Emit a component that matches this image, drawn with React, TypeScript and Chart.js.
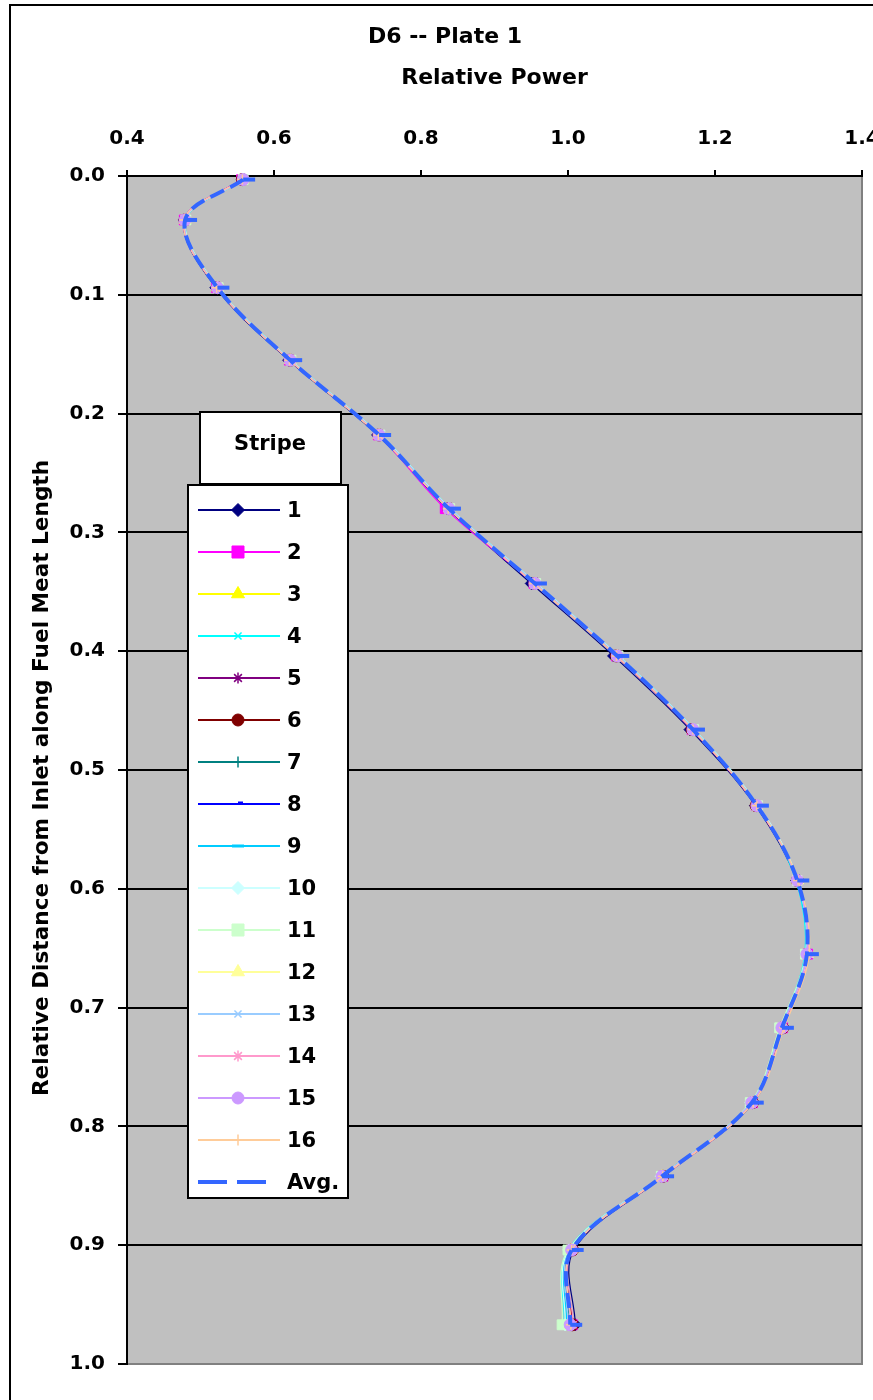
import React, { useEffect, useRef } from 'react';
import { Chart, registerables } from 'chart.js';
import { drawPoint } from 'chart.js/helpers';

Chart.register(...registerables);

// ---------------- DATA ----------------
const CHART_TITLE = 'D6 -- Plate 1';
const X_TITLE = 'Relative Power';
const Y_TITLE = 'Relative Distance from Inlet along Fuel Meat Length';
const LEGEND_TITLE = 'Stripe';

const DISTANCE = [0.003, 0.037, 0.094, 0.155, 0.218, 0.280, 0.343, 0.404, 0.466, 0.530, 0.593, 0.655, 0.717, 0.780, 0.842, 0.904, 0.967];

const STRIPE_1 = [0.557, 0.478, 0.521, 0.620, 0.741, 0.836, 0.950, 1.062, 1.166, 1.255, 1.311, 1.326, 1.292, 1.252, 1.130, 1.008, 1.010];
const STRIPE_2 = [0.556, 0.478, 0.522, 0.621, 0.742, 0.833, 0.954, 1.066, 1.169, 1.257, 1.312, 1.326, 1.292, 1.251, 1.129, 1.004, 1.006];
const STRIPE_3 = [0.558, 0.479, 0.523, 0.622, 0.743, 0.838, 0.955, 1.067, 1.170, 1.257, 1.312, 1.325, 1.291, 1.250, 1.128, 1.004, 1.004];
const STRIPE_4 = [0.559, 0.480, 0.524, 0.623, 0.745, 0.840, 0.957, 1.069, 1.172, 1.258, 1.310, 1.322, 1.289, 1.249, 1.127, 1.000, 0.995];
const STRIPE_5 = [0.558, 0.479, 0.523, 0.622, 0.743, 0.838, 0.955, 1.067, 1.170, 1.257, 1.313, 1.326, 1.291, 1.250, 1.128, 1.005, 1.004];
const STRIPE_6 = [0.557, 0.479, 0.523, 0.622, 0.743, 0.838, 0.955, 1.066, 1.169, 1.256, 1.312, 1.325, 1.292, 1.251, 1.129, 1.006, 1.006];
const STRIPE_7 = [0.558, 0.480, 0.523, 0.622, 0.744, 0.839, 0.956, 1.068, 1.171, 1.258, 1.312, 1.325, 1.290, 1.249, 1.127, 1.004, 1.002];
const STRIPE_8 = [0.558, 0.479, 0.523, 0.622, 0.743, 0.838, 0.955, 1.067, 1.170, 1.257, 1.312, 1.325, 1.291, 1.250, 1.128, 1.005, 1.003];
const STRIPE_9 = [0.559, 0.480, 0.524, 0.623, 0.744, 0.839, 0.956, 1.068, 1.171, 1.258, 1.311, 1.323, 1.290, 1.249, 1.127, 1.002, 0.998];
const STRIPE_10 = [0.559, 0.480, 0.524, 0.623, 0.745, 0.840, 0.957, 1.069, 1.172, 1.259, 1.313, 1.324, 1.290, 1.249, 1.127, 1.001, 0.996];
const STRIPE_11 = [0.558, 0.480, 0.524, 0.623, 0.744, 0.839, 0.956, 1.068, 1.171, 1.258, 1.312, 1.323, 1.288, 1.248, 1.127, 1.000, 0.992];
const STRIPE_12 = [0.558, 0.479, 0.523, 0.622, 0.743, 0.838, 0.955, 1.067, 1.170, 1.257, 1.313, 1.326, 1.291, 1.250, 1.128, 1.005, 1.003];
const STRIPE_13 = [0.558, 0.479, 0.523, 0.622, 0.744, 0.839, 0.956, 1.068, 1.171, 1.258, 1.312, 1.324, 1.290, 1.249, 1.127, 1.003, 1.000];
const STRIPE_14 = [0.557, 0.478, 0.522, 0.621, 0.742, 0.837, 0.954, 1.066, 1.169, 1.256, 1.312, 1.327, 1.293, 1.252, 1.130, 1.006, 1.007];
const STRIPE_15 = [0.558, 0.479, 0.523, 0.622, 0.743, 0.838, 0.955, 1.067, 1.170, 1.257, 1.312, 1.325, 1.291, 1.250, 1.128, 1.005, 1.003];
const STRIPE_16 = [0.557, 0.478, 0.522, 0.621, 0.742, 0.837, 0.954, 1.066, 1.170, 1.257, 1.313, 1.328, 1.294, 1.252, 1.129, 1.005, 1.004];
const AVG = [0.558, 0.479, 0.523, 0.622, 0.743, 0.838, 0.955, 1.067, 1.170, 1.257, 1.312, 1.325, 1.291, 1.250, 1.128, 1.005, 1.003];

const STRIPES = [
  STRIPE_1, STRIPE_2, STRIPE_3, STRIPE_4, STRIPE_5, STRIPE_6, STRIPE_7, STRIPE_8,
  STRIPE_9, STRIPE_10, STRIPE_11, STRIPE_12, STRIPE_13, STRIPE_14, STRIPE_15, STRIPE_16,
];
const STRIPE_LABELS = ['1', '2', '3', '4', '5', '6', '7', '8', '9', '10', '11', '12', '13', '14', '15', '16'];
const AVG_LABEL = 'Avg.';

const X_MIN = 0.4;
const X_MAX = 1.4;
const X_STEP = 0.2;
const Y_MIN = 0.0;
const Y_MAX = 1.0;
const Y_STEP = 0.1;

// ---------------- STYLES ----------------
const STRIPE_COLORS = [
  '#000080', '#FF00FF', '#FFFF00', '#00FFFF', '#800080', '#800000', '#008080', '#0000FF',
  '#00CCFF', '#CCFFFF', '#CCFFCC', '#FFFF99', '#99CCFF', '#FF99CC', '#CC99FF', '#FFCC99',
];
const STRIPE_MARKERS = [
  'rectRot', 'rect', 'triangle', 'crossRot', 'star', 'circle', 'cross', 'dash',
  'line', 'rectRot', 'rect', 'triangle', 'crossRot', 'star', 'circle', 'cross',
];
const MARKER_RADIUS: Record<string, number> = {
  rectRot: 6, rect: 7, triangle: 6.5, crossRot: 4.5, star: 5, circle: 6, cross: 5, dash: 4, line: 5,
};
const LEGEND_RADIUS: Record<string, number> = {
  rectRot: 6.5, rect: 8.5, triangle: 7.5, crossRot: 5, star: 5.5, circle: 6, cross: 5.5, dash: 5, line: 6,
};
const MARKER_WIDTH: Record<string, number> = {
  rectRot: 1, rect: 1, triangle: 1, crossRot: 1.5, star: 1.5, circle: 1, cross: 1.5, dash: 3, line: 3,
};
const AVG_COLOR = '#3366FF';
const FONT = "'DejaVu Sans', Verdana, sans-serif";
const PLOT_BG = '#C0C0C0';

const framePlugin = {
  id: 'excelFrame',
  beforeDraw(chart: any) {
    const { ctx, chartArea: a } = chart;
    ctx.save();
    ctx.fillStyle = '#FFFFFF';
    ctx.fillRect(0, 0, chart.width, chart.height);
    ctx.fillStyle = PLOT_BG;
    ctx.fillRect(a.left, a.top, a.right - a.left, a.bottom - a.top);
    ctx.strokeStyle = '#808080';
    ctx.lineWidth = 2;
    ctx.beginPath();
    ctx.moveTo(a.right, a.top);
    ctx.lineTo(a.right, a.bottom + 1);
    ctx.stroke();
    ctx.restore();
  },
  afterDraw(chart: any) {
    const { ctx } = chart;
    ctx.save();
    // Chart title
    ctx.fillStyle = '#000';
    ctx.font = `bold 22px ${FONT}`;
    ctx.textAlign = 'center';
    ctx.textBaseline = 'alphabetic';
    ctx.fillText(CHART_TITLE, 445, 43);

    // Y axis title (rotated)
    ctx.save();
    ctx.translate(42, 778);
    ctx.rotate(-Math.PI / 2);
    ctx.font = `bold 21.6px ${FONT}`;
    ctx.textAlign = 'center';
    ctx.textBaseline = 'middle';
    ctx.fillText(Y_TITLE, 0, 0);
    ctx.restore();

    // Outer frame (left and top edges visible)
    ctx.strokeStyle = '#000';
    ctx.lineWidth = 2;
    ctx.beginPath();
    ctx.moveTo(10, chart.height + 5);
    ctx.lineTo(10, 5);
    ctx.lineTo(chart.width + 5, 5);
    ctx.stroke();

    // Legend title box
    ctx.fillStyle = '#FFFFFF';
    ctx.fillRect(200, 412, 141, 72);
    ctx.lineWidth = 2;
    ctx.strokeRect(200, 412, 141, 72);
    ctx.fillStyle = '#000';
    ctx.font = `bold 21px ${FONT}`;
    ctx.textAlign = 'center';
    ctx.textBaseline = 'alphabetic';
    ctx.fillText(LEGEND_TITLE, 270, 450);

    // Legend box
    ctx.fillStyle = '#FFFFFF';
    ctx.fillRect(188, 485, 160, 713);
    ctx.strokeRect(188, 485, 160, 713);

    const datasets = chart.data.datasets;
    const rowStart = 510;
    const rowStep = 42;
    datasets.forEach((ds: any, row: number) => {
      const y = rowStart + row * rowStep;
      const isAvg = ds.label === AVG_LABEL;
      ctx.save();
      ctx.strokeStyle = ds.borderColor;
      ctx.fillStyle = ds.pointBackgroundColor;
      ctx.lineWidth = isAvg ? 4 : 2;
      if (isAvg) ctx.setLineDash([29, 10]);
      ctx.beginPath();
      ctx.moveTo(198, y);
      ctx.lineTo(isAvg ? 272 : 280, y);
      ctx.stroke();
      ctx.setLineDash([]);
      const style = ds.pointStyle;
      const r = isAvg ? 12 : LEGEND_RADIUS[style];
      ctx.strokeStyle = ds.pointBorderColor;
      ctx.lineWidth = ds.pointBorderWidth;
      drawPoint(ctx, { pointStyle: style, rotation: 0, radius: r, borderWidth: ds.pointBorderWidth }, 238, style === 'dash' && !isAvg ? y - 1 : y);
      ctx.restore();
      ctx.fillStyle = '#000';
      ctx.font = `bold 21px ${FONT}`;
      ctx.textAlign = 'left';
      ctx.textBaseline = 'alphabetic';
      ctx.fillText(ds.label, 287, y + 7);
    });
    ctx.restore();
  },
};

export default function App() {
  const canvasRef = useRef<HTMLCanvasElement | null>(null);

  useEffect(() => {
    if (!canvasRef.current) return;

    const stripeSets = STRIPES.map((vals, i) => {
      const style = STRIPE_MARKERS[i];
      return {
        label: STRIPE_LABELS[i],
        data: DISTANCE.map((d, k) => ({ x: vals[k], y: d })),
        borderColor: STRIPE_COLORS[i],
        backgroundColor: STRIPE_COLORS[i],
        borderWidth: 1.2,
        pointStyle: style,
        pointRadius: MARKER_RADIUS[style],
        pointBackgroundColor: STRIPE_COLORS[i],
        pointBorderColor: STRIPE_COLORS[i],
        pointBorderWidth: MARKER_WIDTH[style],
        tension: 0.35,
        fill: false,
        clip: false,
        order: 16 - i,
      };
    });

    const avgSet = {
      label: AVG_LABEL,
      data: DISTANCE.map((d, k) => ({ x: AVG[k], y: d })),
      borderColor: AVG_COLOR,
      backgroundColor: AVG_COLOR,
      borderWidth: 4,
      borderDash: [15, 7],
      pointStyle: 'dash',
      pointRadius: 12,
      pointBackgroundColor: AVG_COLOR,
      pointBorderColor: AVG_COLOR,
      pointBorderWidth: 4,
      tension: 0.35,
      fill: false,
      clip: false,
      order: 0,
    };

    const tickFont = { family: FONT, size: 20, weight: 'bold' as const };

    const chart = new Chart(canvasRef.current, {
      type: 'line',
      data: { datasets: [...stripeSets, avgSet] as any },
      options: {
        animation: false,
        responsive: false,
        devicePixelRatio: 1,
        events: [],
        layout: { autoPadding: false, padding: { left: 0, top: 0, right: 11, bottom: 36 } },
        plugins: {
          legend: { display: false },
          title: { display: false },
          tooltip: { enabled: false },
        },
        scales: {
          x: {
            type: 'linear',
            position: 'top',
            min: X_MIN,
            max: X_MAX,
            afterFit(scale: any) {
              scale.height = 176;
              scale.paddingLeft = 0;
              scale.paddingRight = 0;
            },
            ticks: {
              stepSize: X_STEP,
              color: '#000',
              font: tickFont,
              padding: 19,
              maxRotation: 0,
              autoSkip: false,
              callback: (v: any) => Number(v).toFixed(1),
            },
            grid: {
              drawOnChartArea: false,
              drawTicks: true,
              tickLength: 6,
              color: '#000',
              lineWidth: 2,
            },
            border: { display: true, color: '#000', width: 2 },
            title: {
              display: true,
              text: X_TITLE,
              color: '#000',
              font: { family: FONT, size: 22, weight: 'bold' },
              padding: { top: 65, bottom: 0 },
            },
          },
          y: {
            type: 'linear',
            reverse: true,
            min: Y_MIN,
            max: Y_MAX,
            afterFit(scale: any) {
              scale.width = 127;
              scale.paddingTop = 0;
              scale.paddingBottom = 0;
            },
            ticks: {
              stepSize: Y_STEP,
              color: '#000',
              font: tickFont,
              padding: 13,
              autoSkip: false,
              callback: (v: any) => Number(v).toFixed(1),
            },
            grid: {
              color: (c: any) => (c.tick && Math.abs(c.tick.value - Y_MAX) < 1e-6 ? '#808080' : '#000'),
              tickColor: '#000',
              tickLength: 9,
              lineWidth: 2,
            },
            border: { display: true, color: '#000', width: 2 },
            title: { display: false },
          },
        },
      } as any,
      plugins: [framePlugin],
    });

    return () => chart.destroy();
  }, []);

  return (
    <div style={{ position: 'absolute', left: 0, top: 0, width: 873, height: 1400, background: '#fff' }}>
      <canvas ref={canvasRef} width={873} height={1400} style={{ display: 'block' }} />
    </div>
  );
}
